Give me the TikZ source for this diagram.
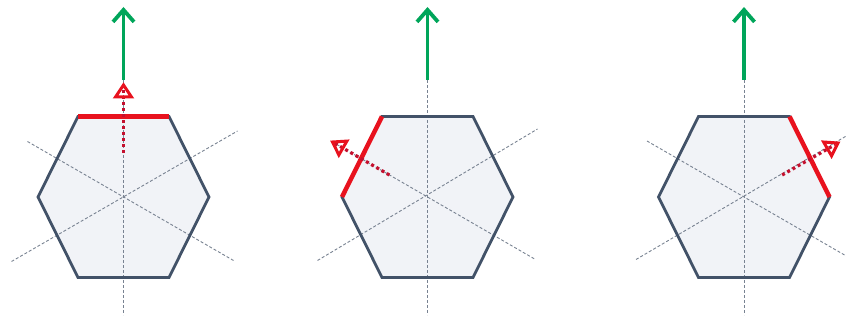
\documentclass[tikz,border=0pt]{standalone}
\usetikzlibrary{arrows.meta,calc}
\definecolor{hexline}{RGB}{66,82,104}
\definecolor{hexfill}{RGB}{241,243,247}
\definecolor{axiscol}{RGB}{120,130,145}
\definecolor{grn}{RGB}{0,165,90}
\definecolor{redge}{RGB}{232,18,30}
\definecolor{rdot}{RGB}{196,16,46}
\tikzset{
  hexfillstyle/.style={fill=hexfill},
  hexoutline/.style={draw=hexline, line width=2.8pt, line join=miter},
  axisline/.style={draw=axiscol, line width=0.9pt, dash pattern=on 3pt off 2pt},
  rededge/.style={draw=redge, line width=4.5pt},
  normalshaft/.style={draw=rdot, line width=3.2pt, dash pattern=on 3pt off 3pt, shorten >=3pt},
  normalhead/.style={draw=redge, solid, line width=3pt, line join=miter},
  greenarrow/.style={draw=grn, line width=3.8pt, -{Straight Barb[length=12pt,width=21pt]}},
}
\begin{document}
\begin{tikzpicture}[x=1pt,y=-1pt]
\useasboundingbox (0,0) rectangle (846,320);

% ---------- panel 1 ----------
\begin{scope}[shift={(123.5,197)}]
  \path[hexfillstyle] (-85.5,0) -- (-45.5,-80.5) -- (45.5,-80.5) -- (85.5,0) -- (45.5,80.5) -- (-45.5,80.5) -- cycle;
  \coordinate (a1t) at (0,-117);   \coordinate (a1b) at (0,118);
  \coordinate (d1a) at (-96,-55.5); \coordinate (d1b) at (110,63.5);
  \coordinate (d1c) at (-112,64.5); \coordinate (d1d) at (114,-66);
  \draw[axisline] (a1t) -- (a1b);
  \draw[axisline] (d1a) -- (d1b);
  \draw[axisline] (d1c) -- (d1d);
  \draw[hexoutline] (-85.5,0) -- (-45.5,-80.5) -- (45.5,-80.5) -- (85.5,0) -- (45.5,80.5) -- (-45.5,80.5) -- cycle;
  \coordinate (e1a) at (-45.5,-80.5); \coordinate (e1b) at (45.5,-80.5);
  \draw[rededge] (e1a) -- (e1b);
  \coordinate (n1s) at (0,-44); \coordinate (n1e) at (0,-112);
  \draw[normalshaft] (n1s) -- (n1e);
  \coordinate (h1b) at ($(n1e)!12pt!(n1s)$);
  \coordinate (h1l) at ($(h1b)!8pt!90:(n1e)$);
  \coordinate (h1r) at ($(h1b)!8pt!-90:(n1e)$);
  \draw[normalhead] (h1l) -- (n1e) -- (h1r) -- cycle;
  \coordinate (g1s) at (0,-117); \coordinate (g1e) at (0,-190);
  \draw[greenarrow] (g1s) -- (g1e);
\end{scope}

% ---------- panel 2 ----------
\begin{scope}[shift={(427.5,197)}]
  \path[hexfillstyle] (-85.5,0) -- (-45.5,-80.5) -- (45.5,-80.5) -- (85.5,0) -- (45.5,80.5) -- (-45.5,80.5) -- cycle;
  \coordinate (a2t) at (0,-117);   \coordinate (a2b) at (0,118);
  \coordinate (d2a) at (-95,-55); \coordinate (d2b) at (108,62.5);
  \coordinate (d2c) at (-110,63.5); \coordinate (d2d) at (110,-68);
  \draw[axisline] (a2t) -- (a2b);
  \draw[axisline] (d2a) -- (d2b);
  \draw[axisline] (d2c) -- (d2d);
  \draw[hexoutline] (-85.5,0) -- (-45.5,-80.5) -- (45.5,-80.5) -- (85.5,0) -- (45.5,80.5) -- (-45.5,80.5) -- cycle;
  \coordinate (e2a) at (-45.5,-80.5); \coordinate (e2b) at (-85.5,0);
  \draw[rededge] (e2a) -- (e2b);
  \coordinate (n2s) at (-38.1,-22); \coordinate (n2e) at (-95,-55);
  \draw[normalshaft] (n2s) -- (n2e);
  \coordinate (h2b) at ($(n2e)!12pt!(n2s)$);
  \coordinate (h2l) at ($(h2b)!8pt!90:(n2e)$);
  \coordinate (h2r) at ($(h2b)!8pt!-90:(n2e)$);
  \draw[normalhead] (h2l) -- (n2e) -- (h2r) -- cycle;
  \coordinate (g2s) at (0,-117); \coordinate (g2e) at (0,-190);
  \draw[greenarrow] (g2s) -- (g2e);
\end{scope}

% ---------- panel 3 ----------
\begin{scope}[shift={(744,197)}]
  \path[hexfillstyle] (-85.5,0) -- (-45.5,-80.5) -- (45.5,-80.5) -- (85.5,0) -- (45.5,80.5) -- (-45.5,80.5) -- cycle;
  \coordinate (a3t) at (0,-117);   \coordinate (a3b) at (0,118);
  \coordinate (d3a) at (-97,-56); \coordinate (d3b) at (104,60);
  \coordinate (d3c) at (-108,62.5); \coordinate (d3d) at (104,-62);
  \draw[axisline] (a3t) -- (a3b);
  \draw[axisline] (d3a) -- (d3b);
  \draw[axisline] (d3c) -- (d3d);
  \draw[hexoutline] (-85.5,0) -- (-45.5,-80.5) -- (45.5,-80.5) -- (85.5,0) -- (45.5,80.5) -- (-45.5,80.5) -- cycle;
  \coordinate (e3a) at (45.5,-80.5); \coordinate (e3b) at (85.5,0);
  \draw[rededge] (e3a) -- (e3b);
  \coordinate (n3s) at (38.1,-22); \coordinate (n3e) at (94,-54);
  \draw[normalshaft] (n3s) -- (n3e);
  \coordinate (h3b) at ($(n3e)!12pt!(n3s)$);
  \coordinate (h3l) at ($(h3b)!8pt!90:(n3e)$);
  \coordinate (h3r) at ($(h3b)!8pt!-90:(n3e)$);
  \draw[normalhead] (h3l) -- (n3e) -- (h3r) -- cycle;
  \coordinate (g3s) at (0,-117); \coordinate (g3e) at (0,-190);
  \draw[greenarrow] (g3s) -- (g3e);
\end{scope}
\end{tikzpicture}
\end{document}
